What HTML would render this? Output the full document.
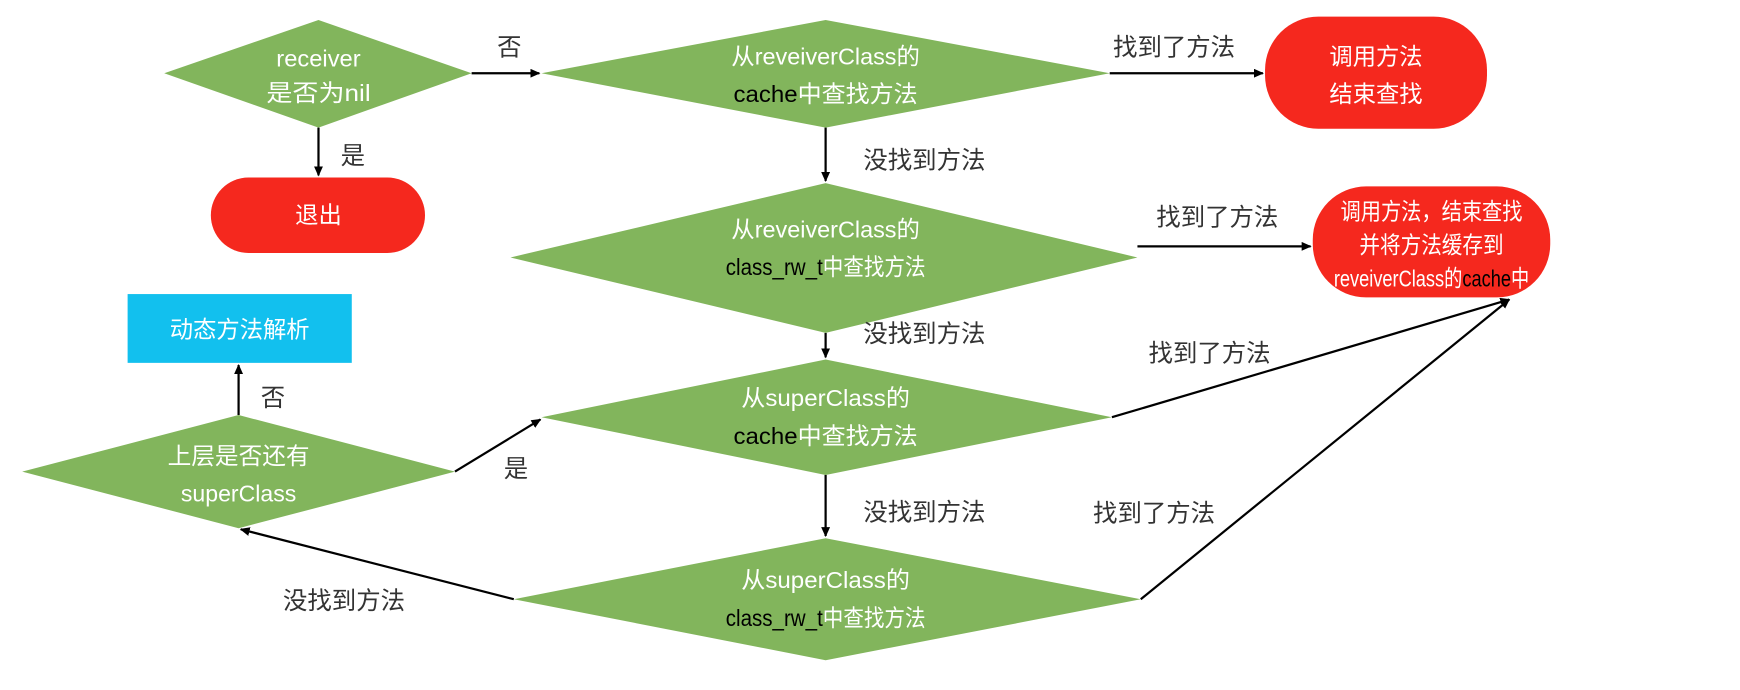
<!DOCTYPE html>
<html><head><meta charset="utf-8"><style>
html,body{margin:0;padding:0;background:#fff;}
svg{display:block;}
text{font-family:"Liberation Sans","Noto Sans CJK SC",sans-serif;}
</style></head><body>
<svg width="1740" height="690" viewBox="0 0 1568 621.8" preserveAspectRatio="none" xmlns="http://www.w3.org/2000/svg">
<defs><marker id="a" markerWidth="10" markerHeight="10" refX="8" refY="4" orient="auto" markerUnits="userSpaceOnUse"><path d="M0,0 L9,4 L0,8 z" fill="#000"/></marker></defs>
<g fill="#82b55c">
<polygon points="148,66 287,18 425,66 287,115"/>
<polygon points="488,66 744,18 1000,66 744,115"/>
<polygon points="460,232 744,165 1025,232 744,300"/>
<polygon points="488,376 744,324 1002,376 744,428"/>
<polygon points="463,540 744,485 1028,540 744,595"/>
<polygon points="20,425 215,374 410,425 215,476"/>
</g>
<g fill="#f5281e">
<rect x="1140" y="15" width="200" height="101" rx="48"/>
<rect x="190" y="160" width="193" height="68" rx="34"/>
<rect x="1183" y="168" width="214" height="100" rx="48"/>
</g>
<rect x="115" y="265" width="202" height="62" fill="#12c0ee"/>
<g stroke="#000" stroke-width="2" fill="none" marker-end="url(#a)">
<line x1="425" y1="66" x2="486" y2="66"/>
<line x1="1000" y1="66" x2="1138" y2="66"/>
<line x1="287" y1="115" x2="287" y2="158"/>
<line x1="744" y1="115" x2="744" y2="163"/>
<line x1="1025" y1="222" x2="1181" y2="222"/>
<line x1="744" y1="300" x2="744" y2="322"/>
<line x1="215" y1="374" x2="215" y2="329"/>
<line x1="410" y1="425" x2="487" y2="378"/>
<line x1="744" y1="428" x2="744" y2="483"/>
<line x1="1002" y1="376" x2="1360" y2="270"/>
<line x1="1028" y1="540" x2="1360" y2="270"/>
<line x1="463" y1="540" x2="217" y2="477"/>
</g>
<g font-size="21" text-anchor="middle" fill="#fff">
<text x="287" y="60" textLength="76" lengthAdjust="spacingAndGlyphs">receiver</text><text x="287" y="91" textLength="94" lengthAdjust="spacingAndGlyphs">是否为nil</text>
<text x="744" y="58" textLength="170" lengthAdjust="spacingAndGlyphs">从reveiverClass的</text><text x="744" y="92" textLength="166" lengthAdjust="spacingAndGlyphs"><tspan fill="#000">cache</tspan>中查找方法</text>
<text x="744" y="214" textLength="170" lengthAdjust="spacingAndGlyphs">从reveiverClass的</text><text x="744" y="248" textLength="180" lengthAdjust="spacingAndGlyphs"><tspan fill="#000">class_rw_t</tspan>中查找方法</text>
<text x="744" y="366" textLength="152" lengthAdjust="spacingAndGlyphs">从superClass的</text><text x="744" y="400" textLength="166" lengthAdjust="spacingAndGlyphs"><tspan fill="#000">cache</tspan>中查找方法</text>
<text x="744" y="530" textLength="152" lengthAdjust="spacingAndGlyphs">从superClass的</text><text x="744" y="564" textLength="180" lengthAdjust="spacingAndGlyphs"><tspan fill="#000">class_rw_t</tspan>中查找方法</text>
<text x="215" y="418" textLength="128" lengthAdjust="spacingAndGlyphs">上层是否还有</text><text x="215" y="452" textLength="104" lengthAdjust="spacingAndGlyphs">superClass</text>
<text x="1240" y="58">调用方法</text><text x="1240" y="92">结束查找</text>
<text x="287" y="201">退出</text>
<text x="1290" y="198" textLength="164" lengthAdjust="spacingAndGlyphs">调用方法，结束查找</text><text x="1290" y="228" textLength="130" lengthAdjust="spacingAndGlyphs">并将方法缓存到</text><text x="1290" y="258" textLength="176" lengthAdjust="spacingAndGlyphs">reveiverClass的<tspan fill="#000">cache</tspan>中</text>
<text x="216" y="304">动态方法解析</text>
</g>
<g font-size="22" text-anchor="middle" fill="#333">
<text x="459" y="50">否</text>
<text x="1058" y="50">找到了方法</text>
<text x="318" y="148">是</text>
<text x="833" y="152">没找到方法</text>
<text x="1097" y="203">找到了方法</text>
<text x="833" y="308">没找到方法</text>
<text x="1090" y="326">找到了方法</text>
<text x="246" y="366">否</text>
<text x="465" y="430">是</text>
<text x="833" y="469">没找到方法</text>
<text x="1040" y="470">找到了方法</text>
<text x="310" y="549">没找到方法</text>
</g>
</svg>
</body></html>
